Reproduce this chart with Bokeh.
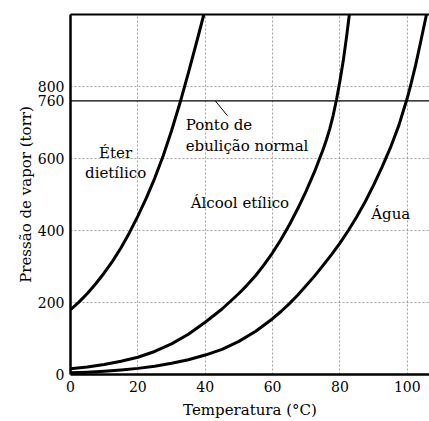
from bokeh.plotting import figure
from bokeh.models import (Range1d, FixedTicker, LinearAxis, Span, Label,
                          ColumnDataSource, Segment)
from bokeh.embed import file_html
from bokeh.resources import INLINE

# ---- data ----
eter_t = [0, 2.5, 5, 7.5, 10, 12.5, 15, 17.5, 20, 22.5, 25, 27.5, 30, 32.5, 35, 37.5, 39.6]
eter_p = [180, 201, 225, 252, 282, 315, 352, 394, 440, 490, 545, 607, 677, 754, 838, 925, 1000]

alcool_t = [0, 5, 10, 15, 20, 25, 30, 35, 40, 45, 50, 52.5, 55, 57.5, 60, 62.5, 65,
            67.5, 70, 72.5, 75, 76, 77, 78, 79, 80, 81, 82, 82.8]
alcool_p = [16, 21, 28, 37, 48, 64, 85, 112, 145, 182, 225, 249, 275, 305, 338, 375, 416,
            461, 510, 564, 625, 652, 683, 720, 764, 815, 872, 940, 1000]

agua_t = [0, 5, 10, 15, 20, 25, 30, 35, 40, 45, 50, 55, 60, 62.5, 65, 67.5, 70, 72.5,
          75, 77.5, 80, 82.5, 85, 87.5, 90, 92.5, 95, 97.5, 100, 101, 102.5, 104, 105.7]
agua_p = [4.6, 6.5, 9, 12.5, 17, 23, 31, 41, 54, 70, 92, 120, 155, 175, 197, 221, 247, 274,
          303, 333, 365, 400, 438, 480, 526, 576, 630, 692, 768, 803, 860, 925, 1000]

x_ticks = [0, 20, 40, 60, 80, 100]
y_ticks = [0, 200, 400, 600, 760, 800]
x_grid = [20, 40, 60, 80, 100]
y_grid = [200, 400, 600, 800]
ponto_ebulicao = 760

# annotation anchors (data coordinates)
lbl_eter = (13.4, 614, 561)          # x center, y line1, y line2
lbl_ponto = (34.2, 692, 636)         # x left, y line1, y line2
leader = (43.0, 760, 46.6, 719)      # x0, y0, x1, y1
lbl_alcool = (35.7, 476)
lbl_agua = (89.3, 447)

FONT = "DejaVu Serif"

p = figure(width=429, height=421, output_backend="svg", toolbar_location=None,
           x_range=Range1d(0, 106.6), y_range=Range1d(0, 1000),
           min_border_left=70, min_border_right=0, min_border_top=14,
           min_border_bottom=47, outline_line_color=None,
           background_fill_color="white", border_fill_color="white")

# grid
p.xgrid.ticker = FixedTicker(ticks=x_grid)
p.ygrid.ticker = FixedTicker(ticks=y_grid)
for g in (p.xgrid, p.ygrid):
    g.grid_line_color = "#8a8a8a"
    g.grid_line_dash = "2 2"
    g.grid_line_width = 1
    g.grid_line_alpha = 0.8

# axes
for ax in (p.xaxis, p.yaxis):
    ax.axis_line_width = 2.5
    ax.axis_line_color = "black"
    ax.major_tick_out = 0
    ax.major_tick_in = 0
    ax.minor_tick_out = 0
    ax.minor_tick_in = 0
    ax.major_label_text_font = FONT
    ax.major_label_text_font_size = "14px"
    ax.major_label_text_color = "black"
    ax.axis_label_text_font = FONT
    ax.axis_label_text_font_size = "15px"
    ax.axis_label_text_font_style = "normal"
    ax.axis_label_text_color = "black"

p.xaxis.ticker = FixedTicker(ticks=x_ticks)
p.yaxis.ticker = FixedTicker(ticks=y_ticks)
p.xaxis.axis_label = "Temperatura (°C)"
p.yaxis.axis_label = "Pressão de vapor (torr)"
p.xaxis.major_label_standoff = 6
p.xaxis.axis_label_standoff = 6
p.yaxis.major_label_standoff = 6
p.yaxis.axis_label_standoff = 0

top = LinearAxis(ticker=FixedTicker(ticks=[]), axis_line_width=2,
                 axis_line_color="black", major_tick_out=0, major_tick_in=0,
                 minor_tick_out=0, minor_tick_in=0,
                 major_label_text_font_size="0px")
p.add_layout(top, "above")

# normal boiling line
p.add_layout(Span(location=ponto_ebulicao, dimension="width",
                  line_color="black", line_width=1.3))

# curves
for t, pr in ((eter_t, eter_p), (alcool_t, alcool_p), (agua_t, agua_p)):
    p.line(t, pr, line_color="black", line_width=3, line_join="round")

# labels
def lab(x, y, text, align="left"):
    p.add_layout(Label(x=x, y=y, text=text, text_font=FONT,
                       text_font_size="15px", text_color="black",
                       text_align=align, text_baseline="middle"))

lab(lbl_eter[0], lbl_eter[1], "Éter", "center")
lab(lbl_eter[0], lbl_eter[2], "dietílico", "center")
lab(lbl_ponto[0], lbl_ponto[1], "Ponto de")
lab(lbl_ponto[0], lbl_ponto[2], "ebulição normal")
lab(lbl_alcool[0], lbl_alcool[1], "Álcool etílico")
lab(lbl_agua[0], lbl_agua[1], "Água")

seg_src = ColumnDataSource(dict(x0=[leader[0]], y0=[leader[1]],
                                x1=[leader[2]], y1=[leader[3]]))
p.add_glyph(seg_src, Segment(x0="x0", y0="y0", x1="x1", y1="y1",
                             line_color="black", line_width=1))

open("out.html", "w").write(file_html(p, INLINE))
